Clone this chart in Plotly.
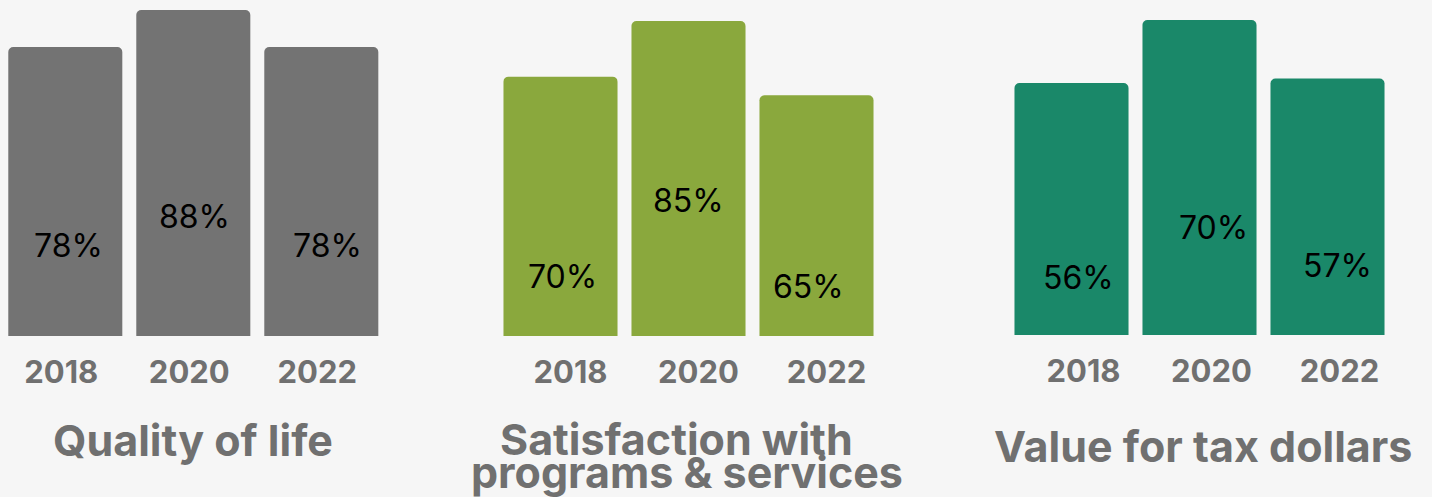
import plotly.graph_objects as go

# ---- data ----
years = ["2018", "2020", "2022"]
quality_of_life = [78, 88, 78]
satisfaction_programs = [70, 85, 65]
value_for_tax = [56, 70, 57]
panel_titles = ["Quality of life", "Satisfaction with", "programs & services", "Value for tax dollars"]

# ---- style ----
W, H = 1432, 497
BG = "#f6f6f6"
TXT_GRAY = "#707070"
colors = ["#737373", "#8aa83d", "#1a8869"]
series = [quality_of_life, satisfaction_programs, value_for_tax]

# x domains (px) for each panel
x_dom_px = [(1.3, 385.3), (496.5, 880.5), (1007.5, 1391.5)]
y_bottom_px = [336, 336, 335]
y_scale = [3.705, 3.705, 4.5]  # px per percentage point
tick_shift = [-4, 10, 12]

# label offsets (px) below the bar top, and horizontal nudges
label_drop = [[198, 207, 198], [200, 179, 191], [194, 207, 187]]
label_dx = [[3, 1.5, 6.5], [2, 0, -8.5], [7, 14, 10]]

fig = go.Figure()
annotations = []
for i in range(3):
    sfx = "" if i == 0 else str(i + 1)
    fig.add_trace(go.Bar(
        x=years, y=series[i], marker=dict(color=colors[i], line=dict(width=0)),
        xaxis="x" + sfx, yaxis="y" + sfx, showlegend=False, hoverinfo="skip",
    ))
    d0, d1 = x_dom_px[i]
    fig.layout["xaxis" + sfx] = dict(
        domain=[d0 / W, d1 / W], type="category", range=[-0.5, 2.5],
        showgrid=False, zeroline=False, showline=False, ticks="",
        tickfont=dict(family="Inter", size=31, color=TXT_GRAY, weight=700),
        ticklabelshift=tick_shift[i], ticklabelstandoff=15,
        anchor="y" + sfx, fixedrange=True,
    )
    yb = y_bottom_px[i]
    fig.layout["yaxis" + sfx] = dict(
        domain=[(H - yb) / H, 1], range=[0, yb / y_scale[i]],
        visible=False, anchor="x" + sfx, fixedrange=True,
    )
    for j in range(len(years)):
        annotations.append(dict(
            x=j, y=series[i][j], xref="x" + sfx, yref="y" + sfx,
            text=f"{series[i][j]}%", showarrow=False,
            xanchor="center", yanchor="middle",
            xshift=label_dx[i][j], yshift=-label_drop[i][j],
            font=dict(family="Inter", size=32, color="#000000"),
        ))

# panel titles
title_font = dict(family="Inter", size=43, color=TXT_GRAY, weight=700)
title_pos = [(192.5, 440), (676.7, 439), (686.7, 472), (1202.5, 446)]
for t, (px, py) in zip(panel_titles, title_pos):
    annotations.append(dict(
        x=px / W, y=(H - py) / H, xref="paper", yref="paper", text=t,
        showarrow=False, xanchor="center", yanchor="middle", font=title_font,
    ))

fig.update_layout(
    width=W, height=H, margin=dict(l=0, r=0, t=0, b=0),
    paper_bgcolor=BG, plot_bgcolor=BG,
    bargap=0.109, barcornerradius=5,
    annotations=annotations,
)

fig.write_html(
    "out.html",
    config={"displayModeBar": False, "staticPlot": True},
    post_script="document.body.style.margin='0';document.body.style.overflow='hidden';",
)
